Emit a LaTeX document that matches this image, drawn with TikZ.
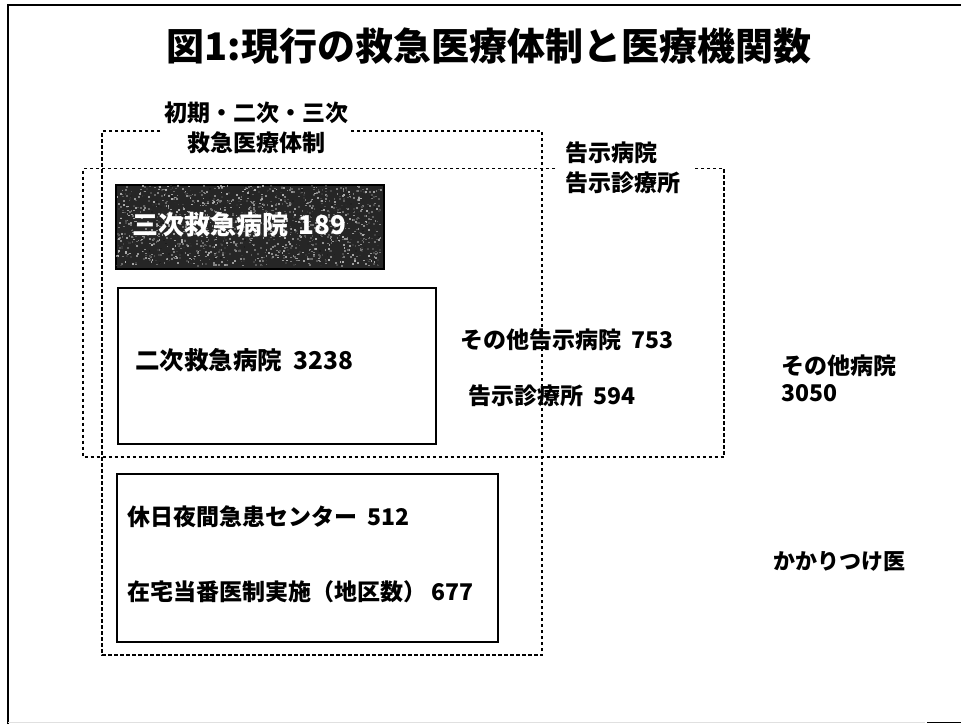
\documentclass[tikz,border=0pt]{standalone}
\usepackage{fontspec}
\setmainfont{Noto Sans CJK JP}
\begin{document}
\begin{tikzpicture}[x=1pt,y=-1pt,
  dash box/.style={draw=black,line width=1.1pt,dash pattern=on 3.5pt off 2.5pt},
  solid box/.style={draw=black,line width=1.6pt,inner sep=0pt,anchor=north west},
  lbl/.style={anchor=west,inner sep=0pt,font=\fontsize{23}{27}\selectfont\bfseries},
  clbl/.style={anchor=center,inner sep=0pt,font=\fontsize{23}{27}\selectfont\bfseries}]
\useasboundingbox (0,0) rectangle (961,724);
\fill[white] (0,0) rectangle (961,724);
% outer frame
\draw[line width=2.6pt] (8,724) -- (8,5) -- (961,5);
\draw[black!12,line width=1pt] (8,722.5) -- (925,722.5);
\draw[line width=1.6pt] (927,722.5) -- (961,722.5);
% title
\node[inner sep=0pt,font=\fontsize{38}{42}\selectfont\bfseries] (title) at (489,46) {図1:現行の救急医療体制と医療機関数};
% dashed box A (initial/secondary/tertiary)
\draw[dash box] (160,131) -- (102,131) -- (102,655) -- (542,655) -- (542,131) -- (350,131);
\node[clbl] (sysA1) at (256,113) {初期・二次・三次};
\node[clbl] (sysA2) at (256,143) {救急医療体制};
% dashed box B (notified hospitals)
\draw[dash box] (555,168.5) -- (83,168.5) -- (83,457) -- (724,457) -- (724,168.5) -- (693,168.5);
\node[lbl] (kokuji1) at (565,153) {告示病院};
\node[lbl] (kokuji2) at (565,183) {告示診療所};
% tertiary dark box
\node[solid box,fill=black!85,minimum width=268pt,minimum height=84pt] (tert) at (115,184) {};
\pgfmathsetseed{11}
\foreach \i in {1,...,1500}{
  \pgfmathsetmacro\xx{116+264*rnd}
  \pgfmathsetmacro\yy{185+80*rnd}
  \pgfmathsetmacro\gg{30+60*rnd}
  \fill[black!\gg!white] (\xx,\yy) rectangle ++(1.8,1.6);
}
\node[anchor=west,inner sep=0pt,text=white,font=\fontsize{26}{30}\selectfont\bfseries] (tertlbl) at (132,225) {三次救急病院\ \,189};
% secondary box
\node[solid box,minimum width=318pt,minimum height=156pt] (sec) at (117,287) {};
\node[lbl,font=\fontsize{24.5}{29}\selectfont\bfseries] (seclbl) at (135,360) {二次救急病院\ \ 3238};
% others in box B
\node[lbl] (other1) at (460,340) {その他告示病院\ \ 753};
\node[lbl] (other2) at (468,396) {告示診療所\ \ 594};
% other hospitals
\node[lbl] (oth1) at (781,366) {その他病院};
\node[lbl] (oth2) at (781,393) {3050};
% primary box
\node[solid box,minimum width=381pt,minimum height=168pt] (prim) at (116,473) {};
\node[lbl] (prim1) at (127,517) {休日夜間急患センター\ \ 512};
\node[lbl] (prim2) at (127,592) {在宅当番医制実施（地区数）\ 677};
% family doctors
\node[lbl,font=\fontsize{22}{26}\selectfont\bfseries] (kakari) at (773,562) {かかりつけ医};
\end{tikzpicture}
\end{document}
